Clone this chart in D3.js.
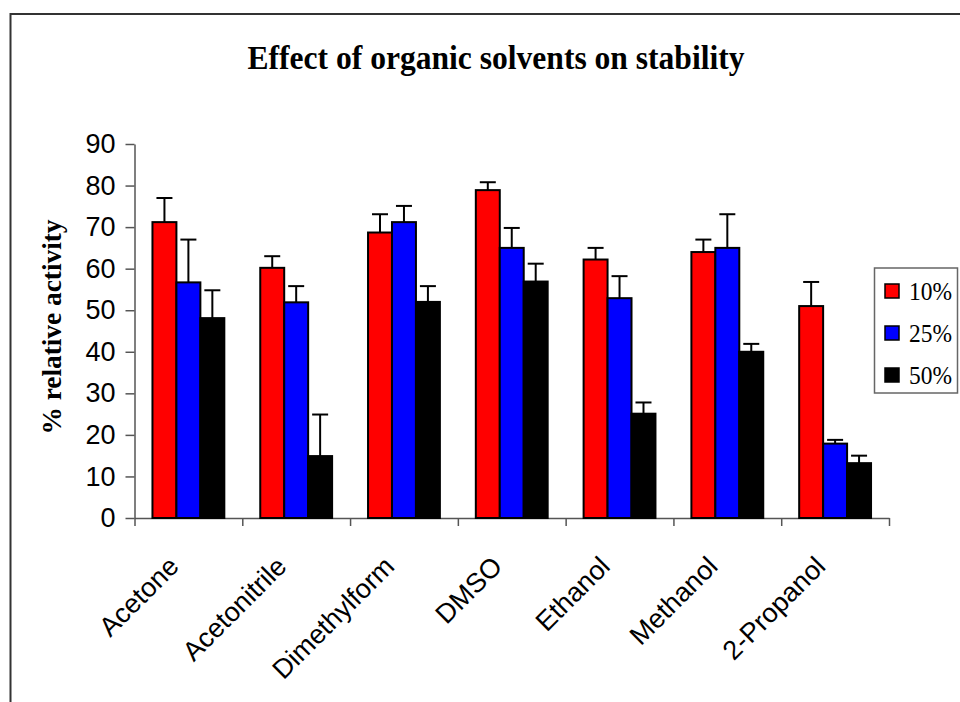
<!DOCTYPE html>
<html>
<head>
<meta charset="utf-8">
<script src="https://cdn.jsdelivr.net/npm/d3@7"></script>
<style>
    body { margin: 0; background: #fff; }
    svg { display: block; }
</style>
</head>
<body>
<div id="chart"></div>
<script>
// solvents on the x axis
var solvents = ['Acetone', 'Acetonitrile', 'Dimethylform', 'DMSO', 'Ethanol', 'Methanol', '2-Propanol'];
var seriesNames = ['10%', '25%', '50%'];
var seriesColors = ['#ff0000', '#0000ff', '#000000'];

// % relative activity
var pct10 = [71.2, 60.2, 68.7, 78.9, 62.2, 64.0, 51.0];
var pct25 = [56.7, 51.9, 71.2, 65.0, 52.9, 65.0, 17.9];
var pct50 = [48.1, 14.9, 52.0, 56.9, 25.1, 40.0, 13.2];

// upper error (only the top half is drawn)
var err10 = [5.8, 2.8, 4.4, 1.9, 2.8, 3.0, 5.8];
var err25 = [10.3, 3.9, 3.9, 4.8, 5.3, 8.1, 0.9];
var err50 = [6.7, 10.0, 3.8, 4.3, 2.7, 1.9, 1.8];

var yTicks = [0, 10, 20, 30, 40, 50, 60, 70, 80, 90];

var values = [pct10, pct25, pct50];
var errors = [err10, err25, err50];

var data = solvents.map(function (s, i) {
    return {
        solvent: s,
        bars: seriesNames.map(function (n, j) {
            return { series: n, color: seriesColors[j], value: values[j][i], err: errors[j][i] };
        })
    };
});

var svgWidth = 960, svgHeight = 702;
var margin = { top: 144, right: 71, bottom: 184, left: 134.5 };

var svg = d3.select('#chart')
    .append('svg')
    .attr('width', svgWidth)
    .attr('height', svgHeight);

// outer frame (runs off the right and bottom edges)
svg.append('rect')
    .attr('x', 10.5)
    .attr('y', 14)
    .attr('width', 980)
    .attr('height', 720)
    .attr('fill', 'none')
    .attr('stroke', '#333')
    .attr('stroke-width', 2);

var width = svgWidth - margin.left - margin.right;
var height = svgHeight - margin.top - margin.bottom;

var g = svg.append('g')
    .attr('transform', 'translate(' + margin.left + ',' + margin.top + ')');

var x0 = d3.scaleBand().domain(solvents).range([0, width]).paddingInner(1 / 3).paddingOuter(1 / 6);
var x1 = d3.scaleBand().domain(seriesNames).range([0, x0.bandwidth()]);
var xEdge = d3.scaleLinear().domain([0, solvents.length]).range([0, width]);
var y = d3.scaleLinear().domain([0, 90]).range([height, 0]);

// y axis
var yAxis = g.append('g')
    .attr('class', 'y axis')
    .call(d3.axisLeft(y).tickValues(yTicks).tickSize(9).tickSizeOuter(0).tickPadding(10));
yAxis.select('.domain').attr('stroke', '#555').attr('stroke-width', 1.5);
yAxis.selectAll('.tick line').attr('stroke', '#555').attr('stroke-width', 1.5);
yAxis.selectAll('.tick text')
    .attr('fill', '#000')
    .style('font-family', '"Liberation Sans", Arial, sans-serif')
    .style('font-size', '27px');

// x axis: tick marks at category edges
var xAxis = g.append('g')
    .attr('class', 'x axis')
    .attr('transform', 'translate(0,' + height + ')')
    .call(d3.axisBottom(xEdge).ticks(solvents.length).tickSize(8).tickSizeOuter(0).tickFormat(''));
xAxis.select('.domain').attr('stroke', '#555').attr('stroke-width', 1.5);
xAxis.selectAll('.tick line').attr('stroke', '#555').attr('stroke-width', 1.5);

// x labels, rotated
var xLabels = g.append('g')
    .attr('class', 'x labels')
    .attr('transform', 'translate(0,' + height + ')')
    .call(d3.axisBottom(x0).tickSize(0));
xLabels.select('.domain').remove();
xLabels.selectAll('.tick text')
    .attr('x', 0)
    .attr('y', 0)
    .attr('dy', 0)
    .attr('fill', '#000')
    .attr('text-anchor', 'end')
    .attr('transform', 'translate(-8,50) rotate(-45)')
    .style('font-family', '"Liberation Sans", Arial, sans-serif')
    .style('font-size', '27px');

// bars
var groups = g.selectAll('.group')
    .data(data)
    .enter().append('g')
    .attr('class', 'group')
    .attr('transform', function (d) { return 'translate(' + x0(d.solvent) + ',0)'; });

groups.selectAll('.bar')
    .data(function (d) { return d.bars; })
    .enter().append('rect')
    .attr('class', 'bar')
    .attr('x', function (d) { return x1(d.series); })
    .attr('y', function (d) { return y(d.value); })
    .attr('width', x1.bandwidth())
    .attr('height', function (d) { return height - y(d.value); })
    .attr('fill', function (d) { return d.color; })
    .attr('stroke', '#000')
    .attr('stroke-width', 2);

// error bars (upper only)
var capHalf = 8;
var errs = groups.selectAll('.err')
    .data(function (d) { return d.bars; })
    .enter().append('g')
    .attr('class', 'err')
    .attr('stroke', '#000')
    .attr('stroke-width', 2);

errs.append('line')
    .attr('x1', function (d) { return x1(d.series) + x1.bandwidth() / 2; })
    .attr('x2', function (d) { return x1(d.series) + x1.bandwidth() / 2; })
    .attr('y1', function (d) { return y(d.value); })
    .attr('y2', function (d) { return y(d.value + d.err); });

errs.append('line')
    .attr('x1', function (d) { return x1(d.series) + x1.bandwidth() / 2 - capHalf; })
    .attr('x2', function (d) { return x1(d.series) + x1.bandwidth() / 2 + capHalf; })
    .attr('y1', function (d) { return y(d.value + d.err); })
    .attr('y2', function (d) { return y(d.value + d.err); });

// title
svg.append('text')
    .attr('x', 496)
    .attr('y', 69)
    .attr('text-anchor', 'middle')
    .attr('textLength', 497)
    .attr('lengthAdjust', 'spacingAndGlyphs')
    .style('font-family', '"Liberation Serif", "Times New Roman", serif')
    .style('font-weight', 'bold')
    .style('font-size', '33px')
    .text('Effect of organic solvents on stability');

// y axis title
svg.append('text')
    .attr('transform', 'translate(61,327) rotate(-90)')
    .attr('text-anchor', 'middle')
    .attr('textLength', 215)
    .attr('lengthAdjust', 'spacingAndGlyphs')
    .style('font-family', '"Liberation Serif", "Times New Roman", serif')
    .style('font-weight', 'bold')
    .style('font-size', '27px')
    .text('% relative activity');

// legend
var legend = svg.append('g').attr('class', 'legend');
legend.append('rect')
    .attr('x', 874.5)
    .attr('y', 268)
    .attr('width', 83)
    .attr('height', 125)
    .attr('fill', '#fff')
    .attr('stroke', '#666')
    .attr('stroke-width', 1.5);

var items = legend.selectAll('.item')
    .data(seriesNames)
    .enter().append('g')
    .attr('class', 'item')
    .attr('transform', function (d, i) { return 'translate(885,' + (291 + i * 42) + ')'; });

items.append('rect')
    .attr('x', 0)
    .attr('y', -7)
    .attr('width', 14)
    .attr('height', 14)
    .attr('fill', function (d, i) { return seriesColors[i]; })
    .attr('stroke', '#000')
    .attr('stroke-width', 1.5);

items.append('text')
    .attr('x', 24)
    .attr('y', 9)
    .attr('textLength', 43)
    .attr('lengthAdjust', 'spacingAndGlyphs')
    .style('font-family', '"Liberation Serif", "Times New Roman", serif')
    .style('font-size', '26px')
    .text(function (d) { return d; });
</script>
</body>
</html>
